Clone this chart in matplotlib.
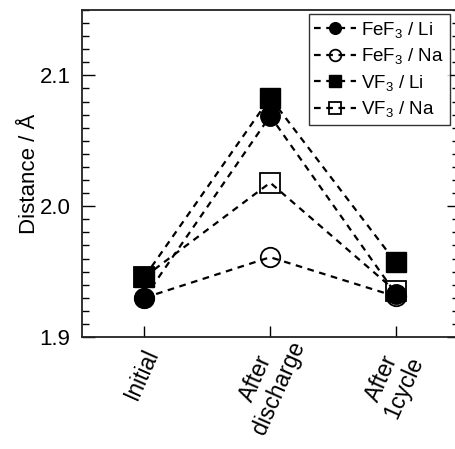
import matplotlib
matplotlib.use("Agg")
import matplotlib.pyplot as plt
from matplotlib.ticker import MultipleLocator

plt.rcParams['font.family'] = ['Liberation Sans', 'DejaVu Sans']
plt.rcParams['mathtext.fontset'] = 'custom'
plt.rcParams['mathtext.rm'] = 'Liberation Sans'
plt.rcParams['mathtext.it'] = 'Liberation Sans:italic'

categories = ['Initial', 'After\ndischarge', 'After\n1cycle']
vf3_na = [1.946, 2.018, 1.935]
fef3_na = [1.930, 1.961, 1.931]
vf3_li = [1.946, 2.083, 1.957]
fef3_li = [1.930, 2.069, 1.933]

fig = plt.figure(figsize=(4.56, 4.49), dpi=100)
ax = fig.add_axes([0.179, 0.2494, 0.827, 0.7283])

x = list(range(len(categories)))
common = dict(color='black', linestyle=(0, (3, 2.5)), linewidth=1.6, markersize=14)
l4, = ax.plot(x, vf3_na, marker='s', markerfacecolor='none', markeredgewidth=1.3, label='VF$_3$ / Na', **common)
l2, = ax.plot(x, fef3_na, marker='o', markerfacecolor='none', markeredgewidth=1.3, label='FeF$_3$ / Na', **common)
l3, = ax.plot(x, vf3_li, marker='s', label='VF$_3$ / Li', **common)
l1, = ax.plot(x, fef3_li, marker='o', label='FeF$_3$ / Li', **common)

ax.set_xlim(-0.5, 2.5)
ax.set_ylim(1.9, 2.15)
ax.set_xticks(x)
ax.set_xticklabels([])
# category labels: centre of each rotated label placed below its tick
for i, cat in enumerate(categories):
    dy = -26.6 if '\n' not in cat else -33.0
    ax.annotate(cat, xy=(i, 0), xycoords=ax.get_xaxis_transform(),
                xytext=(-2.2, dy), textcoords='offset points',
                rotation=66, rotation_mode='anchor', ha='center', va='center',
                multialignment='center', linespacing=1.1, fontsize=16.5, annotation_clip=False)

ax.yaxis.set_minor_locator(MultipleLocator(0.01))
ax.set_yticks([1.9, 2.0, 2.1])
ax.set_yticklabels(['1.9', '2.0', '2.1'], fontsize=16)
ax.tick_params(axis='y', which='both', direction='in', left=True, right=True, width=1.0)
ax.tick_params(axis='y', which='major', length=9, pad=8)
ax.tick_params(axis='y', which='minor', length=5)
ax.tick_params(axis='x', which='major', direction='in', length=8, width=1.0, top=False)
ax.set_ylabel('Distance / Å', fontsize=16, labelpad=0)
for s in ax.spines.values():
    s.set_linewidth(1.3)
    s.set_color('#222222')

leg = ax.legend(handles=[l1, l2, l3, l4], loc='upper right', bbox_to_anchor=(0.976, 0.988),
                borderaxespad=0, fontsize=13.5, frameon=True, fancybox=False, handlelength=2.2,
                handletextpad=0.3, borderpad=0.3, labelspacing=0.35, markerscale=0.6)
leg.get_frame().set_edgecolor('black')
leg.get_frame().set_linewidth(1.0)

fig.savefig('out.png', dpi=100)
